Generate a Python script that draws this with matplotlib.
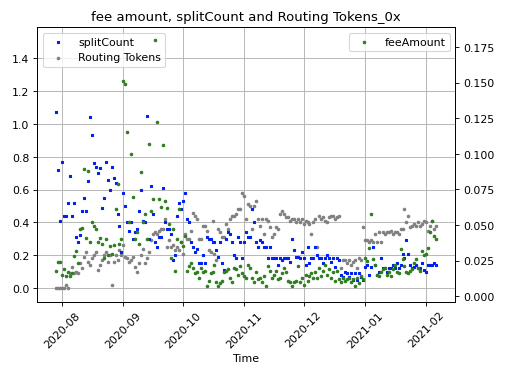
import pandas as pd
import matplotlib.pyplot as plt
import matplotlib.dates as mdates
from matplotlib.ticker import MultipleLocator

# daily values, 2020-07-29 .. 2021-02-06
start_date = '2020-07-29'

split_count = [
    1.07, 0.72, 0.41, 0.77, 0.44, 0.44, 0.52, 0.68, 0.44, 0.52,
    0.31, 0.28, 0.32, 0.47, 0.55, 0.47, 0.65, 1.04, 0.93, 0.76,
    0.74, 0.70, 0.73, 0.49, 0.55, 0.77, 0.66, 0.60, 0.74, 0.67,
    0.64, 0.45, 0.38, 0.22, 0.58, 0.50, 0.40, 0.35, 0.40, 0.30,
    0.34, 0.36, 0.47, 0.60, 0.41, 0.40, 1.05, 0.30, 0.62, 0.45,
    0.28, 0.25, 0.31, 0.31, 0.61, 0.40, 0.36, 0.36, 0.33, 0.17,
    0.20, 0.44, 0.52, 0.48, 0.53, 0.58, 0.42, 0.40, 0.28, 0.25,
    0.22, 0.24, 0.15, 0.15, 0.20, 0.15, 0.31, 0.30, 0.30, 0.28,
    0.28, 0.23, 0.19, 0.28, 0.15, 0.11, 0.30, 0.34, 0.33, 0.28,
    0.20, 0.18, 0.31, 0.28, 0.18, 0.28, 0.34, 0.31, 0.31, 0.48,
    0.40, 0.28, 0.25, 0.29, 0.28, 0.25, 0.25, 0.18, 0.25, 0.18,
    0.18, 0.18, 0.14, 0.18, 0.17, 0.18, 0.18, 0.18, 0.16, 0.30,
    0.23, 0.19, 0.19, 0.18, 0.22, 0.18, 0.14, 0.25, 0.15, 0.18,
    0.18, 0.25, 0.20, 0.18, 0.18, 0.15, 0.18, 0.20, 0.18, 0.16,
    0.18, 0.13, 0.18, 0.17, 0.08, 0.07, 0.10, 0.09, 0.07, 0.09,
    0.05, 0.09, 0.05, 0.09, 0.07, 0.05, 0.13, 0.14, 0.08, 0.13,
    0.25, 0.14, 0.08, 0.10, 0.18, 0.12, 0.12, 0.10, 0.12, 0.12,
    0.14, 0.12, 0.15, 0.12, 0.14, 0.21, 0.18, 0.29, 0.21, 0.14,
    0.12, 0.13, 0.14, 0.12, 0.12, 0.15, 0.11, 0.10, 0.14, 0.14,
    0.14, 0.15, 0.14,
]

routing_tokens = [
    0.00, 0.00, 0.00, 0.00, 0.00, 0.02, 0.00, 0.09, 0.13, 0.09,
    0.10, 0.09, 0.15, 0.12, 0.19, 0.22, 0.16, 0.14, 0.18, 0.20,
    0.22, 0.11, 0.14, 0.17, 0.20, 0.22, 0.16, 0.20, 0.02, 0.16,
    0.20, 0.17, 0.23, 0.20, 0.26, 0.19, 0.18, 0.16, 0.17, 0.19,
    0.13, 0.10, 0.15, 0.20, 0.24, 0.15, 0.18, 0.22, 0.29, 0.33,
    0.34, 0.33, 0.35, 0.36, 0.36, 0.42, 0.25, 0.29, 0.25, 0.26,
    0.23, 0.25, 0.23, 0.28, 0.21, 0.33, 0.30, 0.30, 0.35, 0.46,
    0.44, 0.42, 0.30, 0.30, 0.38, 0.38, 0.35, 0.23, 0.22, 0.41,
    0.21, 0.17, 0.36, 0.34, 0.31, 0.31, 0.39, 0.36, 0.42, 0.44,
    0.44, 0.45, 0.48, 0.48, 0.58, 0.56, 0.42, 0.51, 0.50, 0.36,
    0.50, 0.53, 0.42, 0.38, 0.42, 0.33, 0.42, 0.41, 0.37, 0.31,
    0.33, 0.37, 0.36, 0.45, 0.47, 0.45, 0.43, 0.43, 0.41, 0.42,
    0.42, 0.40, 0.42, 0.40, 0.42, 0.39, 0.41, 0.40, 0.39, 0.33,
    0.40, 0.42, 0.25, 0.44, 0.42, 0.43, 0.41, 0.40, 0.43, 0.44,
    0.44, 0.42, 0.43, 0.44, 0.12, 0.17, 0.17, 0.15, 0.17, 0.14,
    0.16, 0.17, 0.12, 0.18, 0.17, 0.37, 0.29, 0.29, 0.28, 0.29,
    0.28, 0.33, 0.28, 0.34, 0.28, 0.34, 0.33, 0.34, 0.34, 0.35,
    0.33, 0.34, 0.34, 0.33, 0.36, 0.36, 0.48, 0.40, 0.44, 0.37,
    0.38, 0.39, 0.38, 0.40, 0.38, 0.39, 0.41, 0.40, 0.35, 0.38,
    0.41, 0.36, 0.38,
]

fee_amount = [
    0.018, 0.024, 0.024, 0.015, 0.019, 0.014, 0.017, 0.014, 0.016, 0.028,
    0.032, 0.023, 0.047, 0.048, 0.089, 0.041, 0.088, 0.038, 0.052, 0.049,
    0.047, 0.038, 0.041, 0.037, 0.027, 0.040, 0.029, 0.035, 0.030, 0.036,
    0.061, 0.079, 0.037, 0.040, 0.151, 0.149, 0.115, 0.052, 0.100, 0.070,
    0.040, 0.045, 0.037, 0.087, 0.052, 0.058, 0.040, 0.107, 0.060, 0.068,
    0.180, 0.122, 0.068, 0.063, 0.106, 0.067, 0.062, 0.051, 0.027, 0.047,
    0.018, 0.040, 0.061, 0.038, 0.035, 0.042, 0.018, 0.021, 0.023, 0.020,
    0.016, 0.017, 0.013, 0.020, 0.017, 0.018, 0.007, 0.011, 0.016, 0.017,
    0.022, 0.010, 0.007, 0.009, 0.011, 0.017, 0.018, 0.019, 0.013, 0.010,
    0.020, 0.019, 0.015, 0.021, 0.016, 0.014, 0.013, 0.022, 0.020, 0.013,
    0.010, 0.017, 0.012, 0.013, 0.010, 0.014, 0.007, 0.021, 0.018, 0.013,
    0.015, 0.018, 0.012, 0.013, 0.016, 0.020, 0.017, 0.011, 0.010, 0.007,
    0.010, 0.011, 0.021, 0.010, 0.013, 0.008, 0.015, 0.011, 0.014, 0.016,
    0.013, 0.017, 0.013, 0.020, 0.014, 0.018, 0.022, 0.015, 0.019, 0.013,
    0.017, 0.011, 0.018, 0.012, 0.010, 0.013, 0.011, 0.012, 0.013, 0.010,
    0.012, 0.007, 0.013, 0.009, 0.014, 0.012, 0.027, 0.025, 0.034, 0.058,
    0.026, 0.022, 0.015, 0.014, 0.017, 0.019, 0.020, 0.015, 0.017, 0.014,
    0.019, 0.022, 0.017, 0.016, 0.033, 0.026, 0.021, 0.017, 0.016, 0.018,
    0.019, 0.023, 0.026, 0.020, 0.018, 0.032, 0.029, 0.030, 0.034, 0.045,
    0.053, 0.042, 0.040,
]

dates = pd.date_range(start_date, periods=len(split_count), freq='D')

fig = plt.figure(figsize=(6.4, 4.8), dpi=79.55)
fig.subplots_adjust(left=0.073, right=0.894, bottom=0.207, top=0.927)
ax1 = fig.add_subplot(1, 1, 1)
ax2 = ax1.twinx()

ax1.scatter(dates, split_count, s=6, marker='s', color='#0022ee', label='splitCount', zorder=3)
ax1.scatter(dates, routing_tokens, s=5, marker='o', color='grey', label='Routing Tokens', zorder=2)
ax2.scatter(dates, fee_amount, s=5, marker='o', color='#2e7d1e', label='feeAmount')

ax1.set_ylim(-0.085, 1.59)
ax2.set_ylim(-0.004, 0.189)
ax1.yaxis.set_major_locator(MultipleLocator(0.2))
ax2.yaxis.set_major_locator(MultipleLocator(0.025))
ax2.yaxis.set_major_formatter(plt.FormatStrFormatter('%.3f'))
ax1.grid(True, color='#b0b0b0')

ax1.xaxis.set_major_locator(mdates.MonthLocator())
ax1.xaxis.set_major_formatter(mdates.DateFormatter('%Y-%m'))
for lbl in ax1.get_xticklabels():
    lbl.set_rotation(45)
ax1.set_xlabel('Time')
ax1.set_title('fee amount, splitCount and Routing Tokens_0x')

ax1.legend(loc='upper left')
ax2.legend(loc='upper right')

fig.savefig('out.png')
